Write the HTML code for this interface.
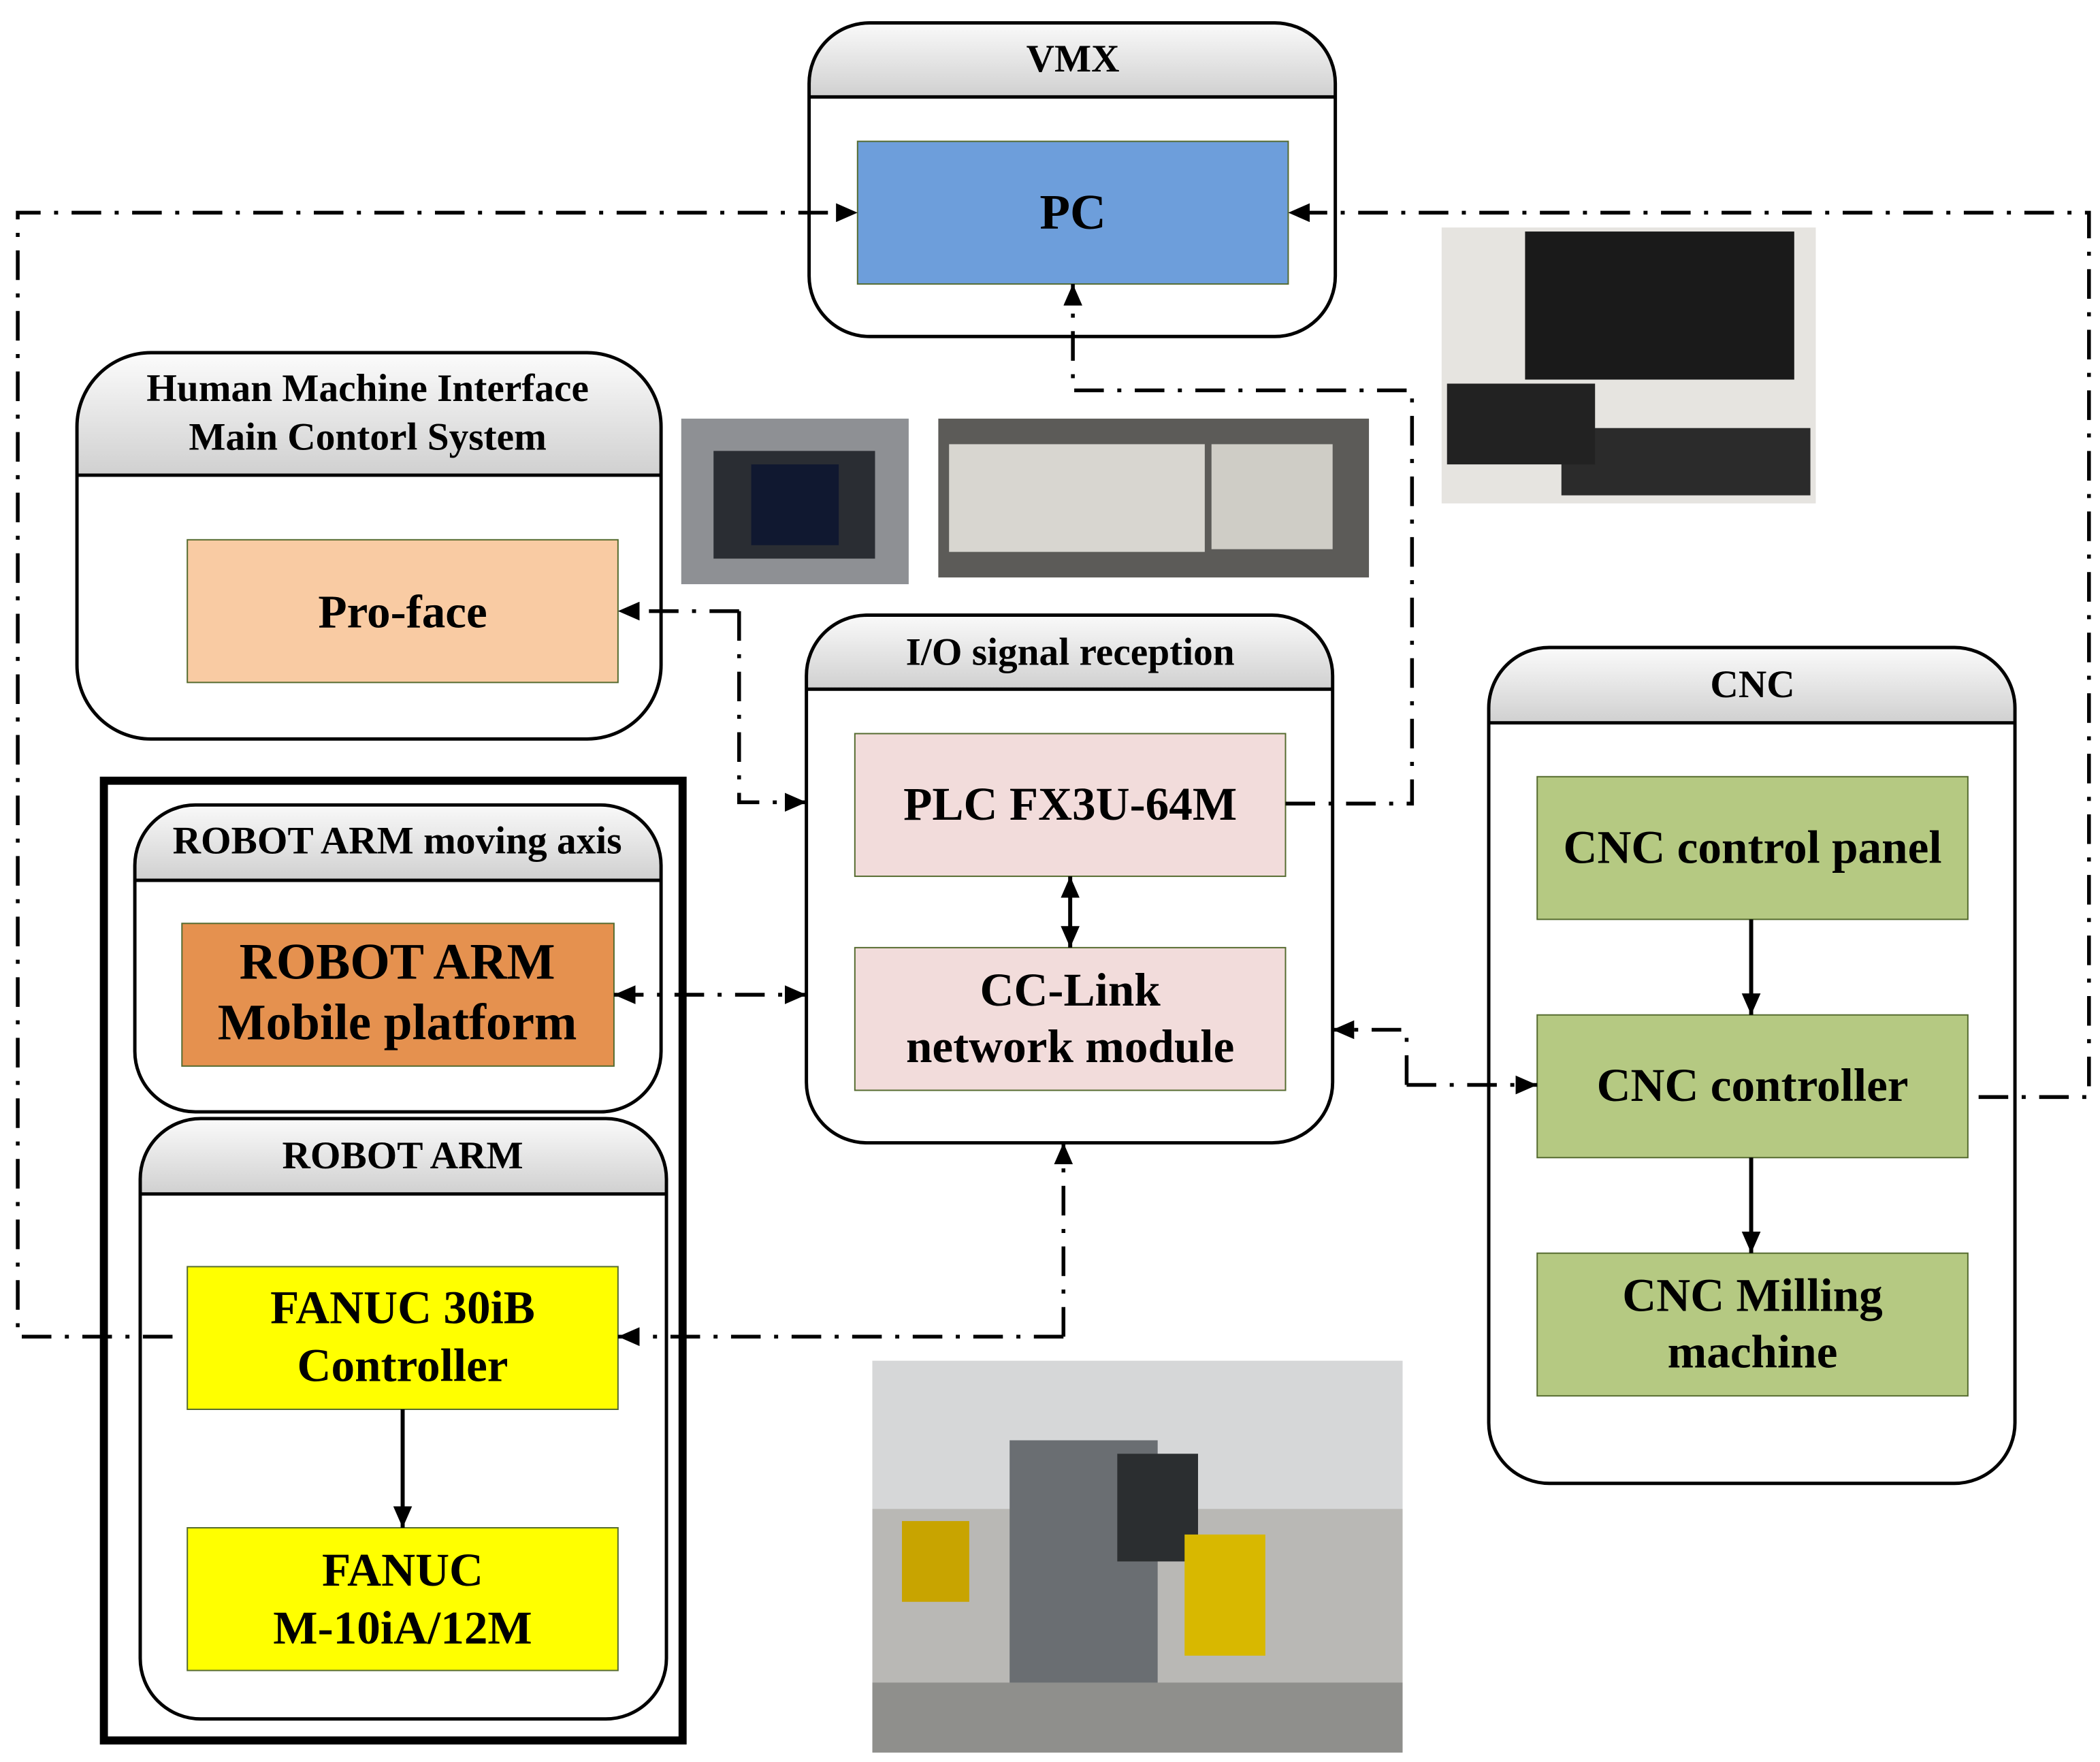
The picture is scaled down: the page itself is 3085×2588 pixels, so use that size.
<!DOCTYPE html>
<html><head><meta charset="utf-8"><style>html,body{margin:0;padding:0;background:#fff}svg{display:block}</style></head>
<body>
<svg width="3085" height="2588" viewBox="0 0 1560 1309" xmlns="http://www.w3.org/2000/svg" font-family="Liberation Serif, serif" font-weight="bold">
<defs>
<linearGradient id="g" x1="0" y1="0" x2="0" y2="1"><stop offset="0" stop-color="#fff"/><stop offset="1" stop-color="#d0d0d0"/></linearGradient>
<marker id="a" viewBox="0 0 16 14" refX="16" refY="7" markerWidth="16" markerHeight="14" orient="auto-start-reverse" markerUnits="userSpaceOnUse"><path d="M0,0 L16,7 L0,14 Z" fill="#000"/></marker>
<clipPath id="c1"><rect x="601" y="17" width="391" height="233" rx="45"/></clipPath>
<clipPath id="c2"><rect x="57" y="262" width="434" height="287" rx="55"/></clipPath>
<clipPath id="c3"><rect x="599" y="457" width="391" height="392" rx="45"/></clipPath>
<clipPath id="c4"><rect x="1106" y="481" width="391" height="621" rx="45"/></clipPath>
<clipPath id="c5"><rect x="100" y="598" width="391" height="228" rx="45"/></clipPath>
<clipPath id="c6"><rect x="104" y="831" width="391" height="446" rx="45"/></clipPath>
</defs>
<g stroke="#000" stroke-width="2.5" fill="none">
<g clip-path="url(#c1)"><rect x="590" y="10" width="420" height="62" fill="url(#g)" stroke="none"/></g>
<rect x="601" y="17" width="391" height="233" rx="45"/><line x1="601" y1="72" x2="992" y2="72"/>
<g clip-path="url(#c2)"><rect x="50" y="255" width="450" height="98" fill="url(#g)" stroke="none"/></g>
<rect x="57" y="262" width="434" height="287" rx="55"/><line x1="57" y1="353" x2="491" y2="353"/>
<g clip-path="url(#c3)"><rect x="590" y="450" width="410" height="62" fill="url(#g)" stroke="none"/></g>
<rect x="599" y="457" width="391" height="392" rx="45"/><line x1="599" y1="512" x2="990" y2="512"/>
<g clip-path="url(#c4)"><rect x="1100" y="475" width="410" height="62" fill="url(#g)" stroke="none"/></g>
<rect x="1106" y="481" width="391" height="621" rx="45"/><line x1="1106" y1="537" x2="1497" y2="537"/>
<rect x="77" y="580" width="430" height="713" stroke-width="6"/>
<g clip-path="url(#c5)"><rect x="95" y="590" width="410" height="64" fill="url(#g)" stroke="none"/></g>
<rect x="100" y="598" width="391" height="228" rx="45"/><line x1="100" y1="654" x2="491" y2="654"/>
<g clip-path="url(#c6)"><rect x="95" y="825" width="410" height="62" fill="url(#g)" stroke="none"/></g>
<rect x="104" y="831" width="391" height="446" rx="45"/><line x1="104" y1="887" x2="495" y2="887"/>
</g>
<g stroke="#556b2f" stroke-width="1">
<rect x="637" y="105" width="320" height="106" fill="#6d9edb"/>
<rect x="139" y="401" width="320" height="106" fill="#f9cba3"/>
<rect x="635" y="545" width="320" height="106" fill="#f2dcdb"/>
<rect x="635" y="704" width="320" height="106" fill="#f2dcdb"/>
<rect x="1142" y="577" width="320" height="106" fill="#b5c982"/>
<rect x="1142" y="754" width="320" height="106" fill="#b5c982"/>
<rect x="1142" y="931" width="320" height="106" fill="#b5c982"/>
<rect x="135" y="686" width="321" height="106" fill="#e5914f"/>
<rect x="139" y="941" width="320" height="106" fill="#ffff00"/>
<rect x="139" y="1135" width="320" height="106" fill="#ffff00"/>
</g>
<rect x="506" y="311" width="169" height="123" fill="#8e9094"/><rect x="530" y="335" width="120" height="80" fill="#2a2d33"/><rect x="558" y="345" width="65" height="60" fill="#101830"/>
<rect x="697" y="311" width="320" height="118" fill="#5c5b58"/><rect x="705" y="330" width="190" height="80" fill="#d8d6d0"/><rect x="900" y="330" width="90" height="78" fill="#cfcdc6"/>
<rect x="1071" y="169" width="278" height="205" fill="#e6e4e0"/><rect x="1133" y="172" width="200" height="110" fill="#1a1a1a"/><rect x="1160" y="318" width="185" height="50" fill="#2b2b2b"/><rect x="1075" y="285" width="110" height="60" fill="#222"/>
<rect x="648" y="1011" width="394" height="291" fill="#b9b8b5"/><rect x="648" y="1011" width="394" height="110" fill="#d6d7d8"/><rect x="750" y="1070" width="110" height="220" fill="#6a6e72"/><rect x="830" y="1080" width="60" height="80" fill="#2b2e30"/><rect x="670" y="1130" width="50" height="60" fill="#c8a400"/><rect x="880" y="1140" width="60" height="90" fill="#d8b800"/><rect x="648" y="1250" width="394" height="52" fill="#8f8f8c"/>
<g stroke="#000" stroke-width="2.8" fill="none" stroke-dasharray="22 10 3 10">
<polyline points="128,993 13,993 13,158 637,158" marker-end="url(#a)"/>
<polyline points="1470,815 1552,815 1552,158 957,158" marker-end="url(#a)"/>
<polyline points="955,597 1049,597 1049,290 797,290 797,211" marker-end="url(#a)"/>
<polyline points="549,454 459,454" marker-end="url(#a)"/>
<polyline points="549,454 549,596 599,596" marker-end="url(#a)"/>
<line x1="456" y1="739" x2="599" y2="739" marker-start="url(#a)" marker-end="url(#a)"/>
<polyline points="790,993 459,993" marker-end="url(#a)"/>
<polyline points="790,993 790,849" marker-end="url(#a)"/>
<polyline points="1045,806 1045,765 990,765" marker-end="url(#a)"/>
<polyline points="1045,806 1142,806" marker-end="url(#a)"/>
</g>
<g stroke="#000" stroke-width="3" fill="none">
<line x1="795" y1="651" x2="795" y2="704" marker-start="url(#a)" marker-end="url(#a)"/>
<line x1="1301" y1="683" x2="1301" y2="754" marker-end="url(#a)"/>
<line x1="1301" y1="860" x2="1301" y2="931" marker-end="url(#a)"/>
<line x1="299" y1="1047" x2="299" y2="1135" marker-end="url(#a)"/>
</g>
<g text-anchor="middle" fill="#000">
<text x="797" y="53" font-size="29">VMX</text>
<text x="273" y="298" font-size="29">Human Machine Interface</text>
<text x="273" y="334" font-size="29">Main Contorl System</text>
<text x="795" y="494" font-size="29">I/O signal reception</text>
<text x="1302" y="518" font-size="29">CNC</text>
<text x="295" y="634" font-size="29">ROBOT ARM moving axis</text>
<text x="299" y="868" font-size="29">ROBOT ARM</text>
<text x="797" y="170" font-size="37">PC</text>
<text x="299" y="466" font-size="35">Pro-face</text>
<text x="795" y="609" font-size="35">PLC FX3U-64M</text>
<text x="795" y="747" font-size="35">CC-Link</text>
<text x="795" y="789" font-size="35">network module</text>
<text x="1302" y="641" font-size="35">CNC control panel</text>
<text x="1302" y="818" font-size="35">CNC controller</text>
<text x="1302" y="974" font-size="35">CNC Milling</text>
<text x="1302" y="1016" font-size="35">machine</text>
<text x="295" y="727" font-size="38">ROBOT ARM</text>
<text x="295" y="772" font-size="38">Mobile platform</text>
<text x="299" y="983" font-size="35">FANUC 30iB</text>
<text x="299" y="1026" font-size="35">Controller</text>
<text x="299" y="1178" font-size="35">FANUC</text>
<text x="299" y="1221" font-size="35">M-10iA/12M</text>
</g>
</svg>
</body></html>
